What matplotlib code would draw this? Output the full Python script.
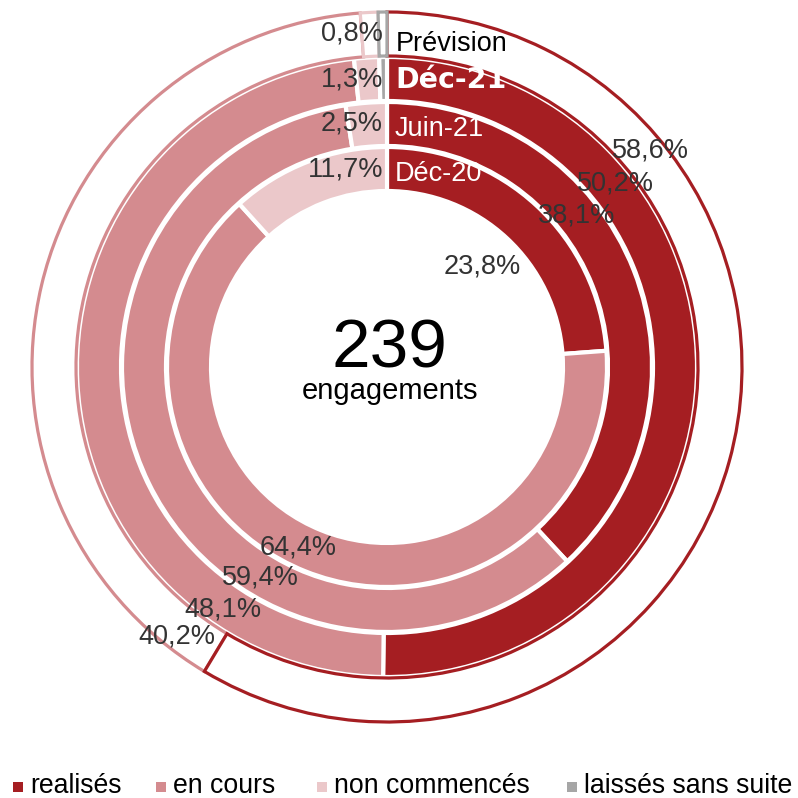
import numpy as np
import matplotlib
matplotlib.use("Agg")
import matplotlib.pyplot as plt
from matplotlib.patches import Rectangle

# ---------------- data ----------------
categories = ["realisés", "en cours", "non commencés", "laissés sans suite"]
rings = ["Déc-20", "Juin-21", "Déc-21", "Prévision"]  # inner -> outer
dec20 = [23.8, 64.4, 11.7, 0.0]
juin21 = [38.1, 59.4, 2.5, 0.0]
dec21 = [50.2, 48.1, 1.3, 0.4]
prevision = [58.6, 40.2, 0.8, 0.4]
total_label = "239"
total_sub = "engagements"

colors = ["#A51E22", "#D48B8F", "#EBC8CA", "#A6A6A6"]
text_dark = "#333333"

def fmt(v):
    return f"{v:.1f}".replace(".", ",") + "%"

plt.rcParams['font.family'] = ['Liberation Sans', 'DejaVu Sans']

fig = plt.figure(figsize=(7.98, 7.98), dpi=100)
ax = fig.add_axes([0, 0, 1, 1])

outer_r = [220, 265, 310, 355]
width = 44
series = [dec20, juin21, dec21, prevision]

for i, vals in enumerate(series):
    idx = [k for k, v in enumerate(vals) if v > 0]
    v = [vals[k] for k in idx]
    wedges, _ = ax.pie(v, radius=outer_r[i], startangle=90, counterclock=False,
                       normalize=True,
                       wedgeprops=dict(width=width, linewidth=3, edgecolor='white'))
    for w, k in zip(wedges, idx):
        if i == 3:
            w.set_facecolor('white')
            w.set_edgecolor(colors[k])
            w.set_linewidth(2.3)
            w.set_zorder(3 if k in (0, 3) else 2)
        else:
            w.set_facecolor(colors[k])
ax.set_xlim(-387, 411)
ax.set_ylim(-431, 367)
ax.set_aspect('equal')
ax.axis('off')

fs = 19.5
# realisés / en cours labels (angle clockwise from top, radius)
real_pos = [(43.5, 138), (51.3, 243), (51.1, 293), (50.5, 341)]
cours_pos = [(206.3, 201), (211.0, 246), (214.0, 293), (217.9, 342)]
for i, vals in enumerate(series):
    a, r = real_pos[i]
    t = np.deg2rad(a)
    ax.text(r * np.sin(t), r * np.cos(t), fmt(vals[0]), ha='center', va='center',
            fontsize=fs, color=text_dark, zorder=5)
    a, r = cours_pos[i]
    t = np.deg2rad(a)
    ax.text(r * np.sin(t), r * np.cos(t), fmt(vals[1]), ha='center', va='center',
            fontsize=fs, color=text_dark, zorder=5)

# non commencés labels and ring names near the top
for i, vals in enumerate(series):
    ymid = outer_r[i] - width / 2
    ax.text(-4, ymid, fmt(vals[2]), ha='right', va='center',
            fontsize=fs, color=text_dark, zorder=5)
    if i == 3:
        ax.text(9, ymid - 10, rings[i], ha='left', va='center', fontsize=fs,
                color='black', zorder=5)
    elif i == 2:
        ax.text(8, ymid - 1, rings[i], ha='left', va='center', fontsize=20.5,
                color='white', fontweight='bold', family=['DejaVu Sans'], zorder=5)
    else:
        ax.text(8, ymid - 5, rings[i], ha='left', va='center', fontsize=fs,
                color='white', zorder=5)

ax.text(2, 18, total_label, ha='center', va='center', fontsize=50, color='black')
ax.text(3, -24, total_sub, ha='center', va='center', fontsize=21, color='black')

# legend (manual layout)
leg_marker_x = [18, 161, 322, 572]
leg_y = 787
for c, lab, mx in zip(colors, categories, leg_marker_x):
    fig.patches.append(Rectangle(((mx - 5) / 798, 1 - (leg_y + 5) / 798), 10 / 798, 10 / 798,
                                 transform=fig.transFigure, facecolor=c, edgecolor='none'))
    fig.text((mx + 12) / 798, 1 - (leg_y - 1) / 798, lab, ha='left', va='center',
             fontsize=19.2, color='black')

fig.savefig("out.png", dpi=100)
